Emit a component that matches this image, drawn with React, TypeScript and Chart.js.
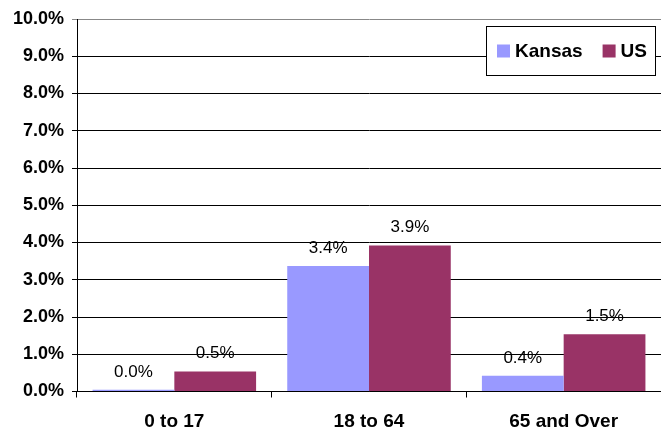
import React, { useEffect, useRef } from "react";
import { Chart, registerables } from "chart.js";

Chart.register(...registerables);

const categories = ["0 to 17", "18 to 64", "65 and Over"];
const kansasValues = [0.045, 3.37, 0.42];
const usValues = [0.54, 3.92, 1.54];
const seriesNames = ["Kansas", "US"];
const seriesColors = ["#9999FF", "#993366"];
const yTicks = [0, 1, 2, 3, 4, 5, 6, 7, 8, 9, 10];

const FONT = "'Liberation Sans', Arial, sans-serif";

const valueLabels = {
  id: "valueLabels",
  afterDatasetsDraw(chart: any) {
    const ctx = chart.ctx;
    ctx.save();
    ctx.font = `17px ${FONT}`;
    ctx.fillStyle = "#000";
    ctx.textAlign = "center";
    ctx.textBaseline = "middle";
    chart.data.datasets.forEach((ds: any, i: number) => {
      const meta = chart.getDatasetMeta(i);
      meta.data.forEach((bar: any, j: number) => {
        const v = ds.data[j] as number;
        ctx.fillText(v.toFixed(1) + "%", bar.x, bar.y - 18);
      });
    });
    ctx.restore();
  },
};

const boxLegend = {
  id: "boxLegend",
  afterDraw(chart: any) {
    const ctx = chart.ctx;
    const area = chart.chartArea;
    const right = area.right - 5;
    const left = right - 170;
    const top = area.top + 7;
    const h = 50;
    ctx.save();
    ctx.fillStyle = "#fff";
    ctx.fillRect(left, top, right - left, h);
    ctx.strokeStyle = "#000";
    ctx.lineWidth = 1;
    ctx.strokeRect(left + 0.5, top + 0.5, right - left - 1, h - 1);
    ctx.font = `bold 19px ${FONT}`;
    ctx.textBaseline = "middle";
    ctx.textAlign = "left";
    const cy = top + h / 2;
    let x = left + 11;
    chart.data.datasets.forEach((ds: any) => {
      ctx.fillStyle = ds.backgroundColor;
      ctx.fillRect(x, cy - 6.5, 13, 13);
      ctx.fillStyle = "#000";
      ctx.fillText(ds.label, x + 18, cy + 1);
      x += 18 + ctx.measureText(ds.label).width + 20;
    });
    ctx.restore();
  },
};

export default function App() {
  const ref = useRef<HTMLCanvasElement | null>(null);
  useEffect(() => {
    if (!ref.current) return;
    const chart = new Chart(ref.current, {
      type: "bar",
      data: {
        labels: categories,
        datasets: [
          { label: seriesNames[0], data: kansasValues, backgroundColor: seriesColors[0] },
          { label: seriesNames[1], data: usValues, backgroundColor: seriesColors[1] },
        ],
      },
      options: {
        responsive: false,
        animation: false,
        layout: { padding: { top: 19, right: 0, left: 0, bottom: 0 } },
        plugins: {
          legend: { display: false },
          title: { display: false },
          tooltip: { enabled: false },
        },
        datasets: { bar: { categoryPercentage: 0.84, barPercentage: 1 } },
        scales: {
          x: {
            grid: {
              offset: true,
              drawOnChartArea: false,
              drawTicks: true,
              tickLength: 6,
              color: "#000",
            },
            border: { color: "#000", width: 1 },
            ticks: {
              color: "#000",
              font: { family: FONT, size: 19, weight: "bold" },
              padding: 13,
            },
            afterFit: (s: any) => {
              s.height = 37.5;
            },
          },
          y: {
            min: 0,
            max: 10,
            afterBuildTicks: (s: any) => {
              s.ticks = yTicks.map((v) => ({ value: v }));
            },
            grid: {
              color: (c: any) => (c.tick && c.tick.value === 10 ? "#888" : "#000"),
              tickLength: 5,
              lineWidth: 1,
            },
            border: { color: "#000", width: 1 },
            ticks: {
              color: "#000",
              font: { family: FONT, size: 18, weight: "bold" },
              padding: 8,
              callback: (v: any) => Number(v).toFixed(1) + "%",
            },
            afterFit: (s: any) => {
              s.width = 77;
            },
          },
        },
      },
      plugins: [valueLabels, boxLegend],
    });
    return () => chart.destroy();
  }, []);
  return (
    <div style={{ position: "absolute", left: 0, top: 0, width: 661, height: 429, background: "#fff" }}>
      <canvas ref={ref} width={661} height={429} />
    </div>
  );
}
